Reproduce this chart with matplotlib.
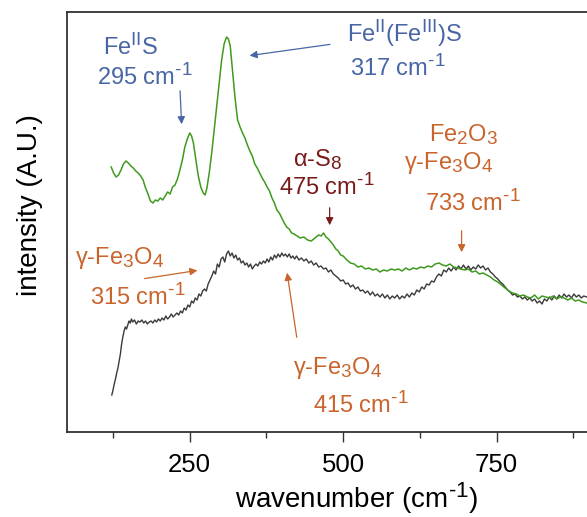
import matplotlib
matplotlib.use("Agg")
import matplotlib.pyplot as plt
import matplotlib._mathtext as mtext

plt.rcParams['font.family'] = ['Liberation Sans', 'DejaVu Sans']
plt.rcParams['mathtext.fontset'] = 'custom'
plt.rcParams['mathtext.rm'] = 'Liberation Sans'
plt.rcParams['mathtext.it'] = 'Liberation Sans:italic'
plt.rcParams['mathtext.bf'] = 'Liberation Sans:bold'
# 上下标稍大一些，更像原图
mtext.SHRINK_FACTOR = 0.8

# 光谱数据
green_wn = [122, 126, 130, 134, 138, 142, 146, 150, 154, 158, 162, 166, 170, 174, 178, 182, 186, 190, 194, 198,
            202, 206, 210, 214, 218, 222, 226, 230, 234, 238, 242, 246, 250, 253, 256, 260, 264, 268, 272, 275,
            278, 282, 286, 290, 294, 298, 302, 306, 310, 313, 316, 320, 324, 328, 332, 336, 340, 344, 348, 352,
            356, 360, 364, 368, 372, 376, 380, 384, 388, 392, 396, 400, 404, 408, 412, 416, 420, 425, 430, 436,
            442, 448, 454, 460, 464, 468, 472, 476, 480, 484, 488, 492, 496, 500, 506, 512, 518, 524, 530, 536,
            542, 548, 554, 560, 566, 572, 578, 584, 590, 596, 602, 608, 614, 620, 626, 632, 638, 644, 650, 656,
            662, 668, 674, 680, 686, 692, 698, 704, 710, 716, 722, 728, 734, 740, 746, 752, 758, 764, 770, 776,
            782, 788, 794, 800, 806, 812, 818, 824, 830, 836, 842, 848, 854, 860, 866, 872, 878, 884, 890, 897]
green_int = [265, 259, 255, 257, 262, 268, 271, 269, 266, 264, 261, 259, 256, 252, 244, 238, 231, 229, 232, 231,
             234, 232, 236, 240, 238, 245, 247, 253, 262, 272, 285, 293, 299, 296, 289, 272, 256, 245, 239, 237,
             244, 260, 280, 303, 326, 348, 372, 388, 395, 393, 386, 360, 333, 312, 305, 299, 294, 287, 281, 276,
             268, 264, 259, 254, 250, 245, 241, 234, 229, 222, 219, 214, 209, 205, 203, 199, 198, 196, 194, 195,
             192, 191, 194, 197, 196, 199, 195, 193, 190, 187, 183, 181, 177, 176, 172, 169, 168, 165, 166, 163,
             164, 162, 163, 160, 162, 161, 163, 162, 163, 161, 164, 162, 164, 163, 165, 164, 166, 165, 168, 169,
             167, 166, 168, 165, 164, 163, 162, 163, 160, 161, 158, 159, 157, 155, 152, 150, 147, 144, 141, 139,
             138, 136, 137, 135, 134, 137, 133, 136, 135, 134, 136, 133, 135, 134, 132, 134, 131, 132, 130, 129]

black_wn = [123, 125, 127, 129, 131, 133, 135, 137, 139, 141, 143, 145, 147, 149, 151, 153, 155, 157, 160, 163,
            166, 169, 172, 175, 178, 181, 184, 187, 190, 193, 196, 199, 202, 205, 208, 211, 214, 217, 220, 223,
            226, 229, 232, 235, 238, 241, 244, 247, 250, 253, 256, 259, 262, 265, 268, 271, 274, 277, 280, 283,
            286, 289, 292, 295, 298, 301, 304, 307, 310, 313, 316, 319, 322, 325, 328, 331, 334, 337, 340, 343,
            346, 349, 352, 355, 358, 361, 364, 367, 370, 373, 376, 379, 382, 385, 388, 391, 394, 397, 400, 403,
            406, 409, 412, 415, 418, 421, 424, 428, 432, 436, 440, 444, 448, 452, 456, 460, 464, 468, 472, 476,
            480, 484, 488, 492, 496, 500, 504, 508, 512, 516, 520, 524, 528, 532, 536, 540, 544, 548, 552, 556,
            560, 564, 568, 572, 576, 580, 584, 588, 592, 596, 600, 604, 608, 612, 616, 620, 624, 628, 632, 636,
            640, 644, 648, 652, 656, 660, 664, 668, 672, 676, 680, 684, 688, 692, 696, 700, 704, 708, 712, 716,
            720, 724, 728, 732, 736, 740, 744, 748, 752, 756, 760, 764, 768, 772, 776, 780, 784, 788, 792, 796,
            800, 804, 808, 812, 816, 820, 824, 828, 832, 836, 840, 844, 848, 852, 856, 860, 864, 868, 872, 876,
            880, 884, 888, 892, 897]
black_int = [37, 42, 48, 53, 59, 64, 71, 78, 88, 95, 101, 105, 103, 107, 111, 109, 113, 110, 112, 108,
             111, 110, 112, 109, 111, 108, 110, 111, 109, 112, 110, 113, 111, 114, 112, 116, 113, 115, 118, 115,
             117, 119, 117, 121, 119, 124, 122, 127, 125, 131, 129, 134, 132, 138, 136, 141, 143, 141, 148, 152,
             156, 161, 158, 168, 165, 173, 175, 170, 178, 181, 176, 179, 174, 177, 172, 174, 169, 171, 167, 169,
             165, 168, 163, 166, 168, 166, 170, 168, 171, 169, 173, 170, 175, 172, 177, 174, 178, 175, 179, 176,
             178, 175, 178, 174, 176, 173, 176, 172, 174, 171, 173, 169, 171, 167, 169, 165, 166, 163, 164, 160,
             162, 158, 156, 154, 151, 152, 148, 149, 145, 147, 143, 145, 141, 142, 139, 141, 137, 140, 136, 138,
             135, 138, 134, 137, 133, 136, 134, 137, 133, 136, 134, 138, 135, 139, 137, 142, 140, 145, 143, 148,
             147, 151, 150, 155, 158, 156, 162, 160, 164, 161, 165, 162, 166, 163, 167, 163, 166, 162, 165, 163,
             167, 164, 166, 162, 164, 160, 158, 155, 153, 150, 148, 145, 142, 140, 137, 138, 135, 136, 133, 135,
             132, 134, 131, 133, 129, 131, 128, 133, 131, 135, 132, 136, 133, 137, 134, 138, 135, 137, 134, 138,
             135, 137, 134, 136, 135]

BLUE = '#4866a6'
DARKRED = '#7a1b1b'
ORANGE = '#c8642c'
CM = 'cm$^{\\rm \u20101}$'

# 注释：(文字, x, y, 颜色)
labels = [
    (r'Fe$^{\rm II}$S', 153, 385, BLUE),
    ('295 ' + CM, 177, 355, BLUE),
    (r'Fe$^{\rm II}$(Fe$^{\rm III}$)S', 599, 399, BLUE),
    ('317 ' + CM, 589, 364, BLUE),
    (r'α-S$_8$', 459, 272, DARKRED),
    ('475 ' + CM, 473, 245, DARKRED),
    (r'Fe$_2$O$_3$', 697, 297, ORANGE),
    (r'γ-Fe$_3$O$_4$', 672, 269, ORANGE),
    ('733 ' + CM, 711, 229, ORANGE),
    (r'γ-Fe$_3$O$_4$', 136, 174, ORANGE),
    ('315 ' + CM, 166, 135, ORANGE),
    (r'γ-Fe$_3$O$_4$', 491, 64, ORANGE),
    ('415 ' + CM, 529, 27, ORANGE),
]

# 箭头：(起点, 终点, 颜色)
arrows = [
    ((234, 344), (237, 305), BLUE),
    ((483, 388), (343, 376), BLUE),
    ((478, 227), (478, 204), DARKRED),
    ((693, 204), (693, 177), ORANGE),
    ((172, 153), (267, 162), ORANGE),
    ((425, 92), (408, 162), ORANGE),
]

fig = plt.figure(figsize=(5.87, 5.17), dpi=100)
ax = fig.add_axes([67 / 587, 85 / 517, 583 / 587, 420 / 517])

ax.plot(black_wn, black_int, color='#3a3a3a', lw=1.0)
ax.plot(green_wn, green_int, color='#3f9a1e', lw=1.1)

ax.set_xlim(50, 1000)
ax.set_ylim(0, 420)
ax.set_yticks([])
ax.set_xticks([250, 500, 750])
ax.set_xticks([125, 375, 625, 875], minor=True)
ax.tick_params(axis='x', which='major', length=7, width=1, labelsize=18.5, pad=8, color='#333333')
ax.tick_params(axis='x', which='minor', length=4, width=1, color='#333333')
for s in ax.spines.values():
    s.set_linewidth(1.3)
    s.set_color('#333333')

for txt, x, y, c in labels:
    ax.text(x, y, txt, color=c, fontsize=17, ha='center', va='center')

for (x0, y0), (x1, y1), c in arrows:
    ax.annotate('', xy=(x1, y1), xytext=(x0, y0),
                arrowprops=dict(arrowstyle='-|>', color=c, lw=0.9, mutation_scale=11))

fig.text(357 / 587, 1 - 498 / 517, 'wavenumber (' + CM + ')', fontsize=20, ha='center', va='center')
fig.text(30 / 587, 1 - 205 / 517, 'intensity (A.U.)', fontsize=20, ha='center', va='center', rotation=90)

fig.savefig('out.png', dpi=100)
